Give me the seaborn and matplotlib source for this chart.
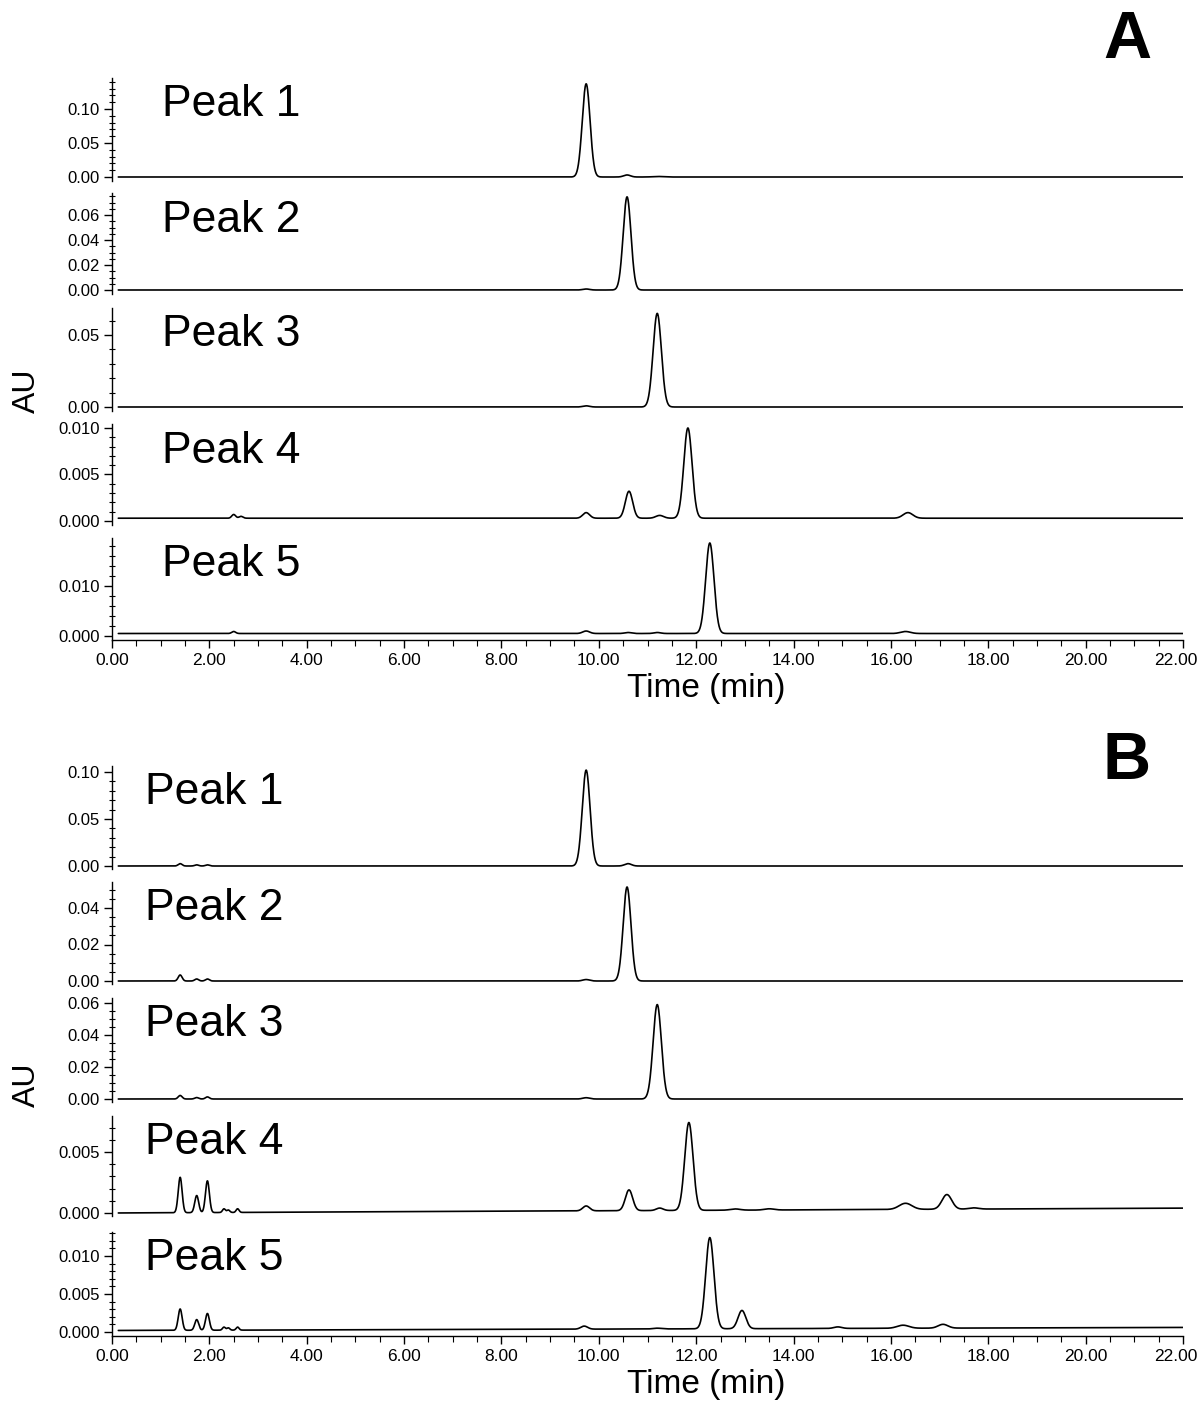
import numpy as np
import pandas as pd
import matplotlib
matplotlib.use("Agg")
import matplotlib.pyplot as plt
from matplotlib.ticker import MultipleLocator, FormatStrFormatter, FuncFormatter
import seaborn as sns

# trace names, same in both panels
trace_labels = ["Peak 1", "Peak 2", "Peak 3", "Peak 4", "Peak 5"]

# peak tables: retention time (min), height (AU), sd (min)
# panel A
A1_rt = [9.74, 10.58, 11.2]
A1_h = [0.137, 0.003, 0.0008]
A1_sd = [0.08, 0.07, 0.1]
A2_rt = [9.74, 10.58]
A2_h = [0.0008, 0.0745]
A2_sd = [0.07, 0.08]
A3_rt = [9.74, 11.2]
A3_h = [0.0008, 0.065]
A3_sd = [0.07, 0.085]
A4_rt = [2.5, 2.65, 9.74, 10.62, 11.25, 11.83, 16.35]
A4_h = [0.0004, 0.0002, 0.0006, 0.0029, 0.0003, 0.0097, 0.0006]
A4_sd = [0.04, 0.04, 0.07, 0.075, 0.08, 0.085, 0.1]
A5_rt = [2.5, 9.74, 10.6, 11.2, 12.28, 16.3]
A5_h = [0.0004, 0.0005, 0.0002, 0.0002, 0.0181, 0.0004]
A5_sd = [0.04, 0.07, 0.07, 0.07, 0.085, 0.1]
# panel B
B1_rt = [1.40, 1.74, 1.96, 9.74, 10.6]
B1_h = [0.0025, 0.0012, 0.0012, 0.102, 0.0025]
B1_sd = [0.04, 0.04, 0.04, 0.08, 0.07]
B2_rt = [1.40, 1.74, 1.96, 9.74, 10.58]
B2_h = [0.0033, 0.0011, 0.0011, 0.0008, 0.0515]
B2_sd = [0.04, 0.04, 0.04, 0.07, 0.08]
B3_rt = [1.40, 1.74, 1.96, 9.74, 11.2]
B3_h = [0.0022, 0.0009, 0.0013, 0.0008, 0.059]
B3_sd = [0.04, 0.04, 0.04, 0.07, 0.085]
B4_rt = [1.40, 1.74, 1.96, 2.30, 2.39, 2.58, 9.74, 10.62, 11.25, 11.85, 12.8, 13.5, 16.3, 17.15, 17.7]
B4_h = [0.0029, 0.0014, 0.0026, 0.0003, 0.0002, 0.0003, 0.0004, 0.0017, 0.0002, 0.0072,
        0.0001, 0.0001, 0.0005, 0.0012, 0.0001]
B4_sd = [0.04, 0.04, 0.04, 0.03, 0.03, 0.03, 0.07, 0.075, 0.07, 0.085, 0.1, 0.1, 0.13, 0.1, 0.1]
B5_rt = [1.40, 1.74, 1.96, 2.30, 2.39, 2.58, 9.70, 11.2, 12.28, 12.94, 14.91, 16.25, 17.07]
B5_h = [0.0028, 0.0014, 0.0022, 0.0004, 0.0003, 0.0004, 0.0004, 0.0001, 0.0120, 0.0024,
        0.0002, 0.0004, 0.0005]
B5_sd = [0.04, 0.04, 0.04, 0.03, 0.03, 0.03, 0.07, 0.08, 0.085, 0.08, 0.08, 0.12, 0.1]

# baseline drift (AU at start, AU at end of run)
A_base_start = [0, 0, 0, 0.0003, 0.0005]
A_base_end = [0, 0, 0, 0.0003, 0.0005]
B_base_start = [0, 0, 0, 0.0, 0.0002]
B_base_end = [0, 0, 0, 0.0004, 0.0006]

A_tables = [(A1_rt, A1_h, A1_sd), (A2_rt, A2_h, A2_sd), (A3_rt, A3_h, A3_sd),
            (A4_rt, A4_h, A4_sd), (A5_rt, A5_h, A5_sd)]
B_tables = [(B1_rt, B1_h, B1_sd), (B2_rt, B2_h, B2_sd), (B3_rt, B3_h, B3_sd),
            (B4_rt, B4_h, B4_sd), (B5_rt, B5_h, B5_sd)]

t = np.arange(0.13, 22.0, 0.005)


def trace(rt, h, sd, b0, b1):
    y = b0 + (b1 - b0) * t / 22.0
    for c, a, s in zip(rt, h, sd):
        y = y + a * np.exp(-0.5 * ((t - c) / s) ** 2)
    return y


rows = []
for panel, tables, bs, be in [("A", A_tables, A_base_start, A_base_end),
                              ("B", B_tables, B_base_start, B_base_end)]:
    for name, (rt, h, sd), b0, b1 in zip(trace_labels, tables, bs, be):
        rows.append(pd.DataFrame({"panel": panel, "trace": name, "time": t,
                                  "AU": trace(rt, h, sd, b0, b1)}))
df = pd.concat(rows, ignore_index=True)

sns.set_style("ticks")
plt.rcParams["font.family"] = ["Liberation Sans", "DejaVu Sans"]
plt.rcParams.update({"text.color": "black", "axes.labelcolor": "black",
                     "xtick.color": "black", "ytick.color": "black",
                     "axes.edgecolor": "black"})

W, H = 1200, 1403
fig = plt.figure(figsize=(12, 14.03), dpi=100)

# axes layout in pixels: (top, bottom, zero pixel, px per AU, major, minor, fmt)
layout = {
    "A": [(78, 181, 177, 680, 0.05, 0.01, "%.2f"),
          (193, 294, 290, 1250, 0.02, 0.005, "%.2f"),
          (308, 411, 407, 1440, 0.05, 0.01, "%.2f"),
          (424, 525, 521, 9300, 0.005, 0.001, "%.3f"),
          (538, 640, 636, 5000, 0.01, 0.002, "%.3f")],
    "B": [(766, 869, 866, 940, 0.05, 0.01, "%.2f"),
          (882, 984, 981, 1825, 0.02, 0.005, "%.2f"),
          (998, 1102, 1099, 1600, 0.02, 0.005, "%.2f"),
          (1116, 1216, 1213, 12200, 0.005, 0.001, "%.3f"),
          (1232, 1336, 1332, 7600, 0.005, 0.001, "%.3f")],
}
x0, x1 = 112, 1183
label_x = {"A": 162, "B": 145}
x_end = 22.0


def time_fmt(v, pos):
    # the last label is drawn separately, nudged left so it stays inside the figure
    return "" if v > x_end - 0.1 else f"{v:.2f}"


for panel in ["A", "B"]:
    for i, (top, bot, zero, scale, major, minor, fmt) in enumerate(layout[panel]):
        ax = fig.add_axes([x0 / W, 1 - bot / H, (x1 - x0) / W, (bot - top) / H])
        d = df[(df["panel"] == panel) & (df["trace"] == trace_labels[i])]
        sns.lineplot(data=d, x="time", y="AU", ax=ax, color="black", linewidth=1.2,
                     estimator=None, errorbar=None)
        ax.set_xlim(0, x_end)
        ax.set_ylim(-(bot - zero) / scale, (zero - top) / scale)
        ax.yaxis.set_major_locator(MultipleLocator(major))
        ax.yaxis.set_minor_locator(MultipleLocator(minor))
        ax.yaxis.set_major_formatter(FormatStrFormatter(fmt))
        ax.tick_params(axis="y", which="major", length=6, width=1, labelsize=12, pad=3)
        ax.tick_params(axis="y", which="minor", length=4, width=0.8, direction="inout")
        ax.set_xlabel("")
        ax.set_ylabel("")
        for s in ["top", "right"]:
            ax.spines[s].set_visible(False)
        ax.spines["left"].set_linewidth(1)
        if i < 4:
            ax.spines["bottom"].set_visible(False)
            ax.tick_params(axis="x", which="both", bottom=False, labelbottom=False)
        else:
            ax.xaxis.set_major_locator(MultipleLocator(2))
            ax.xaxis.set_minor_locator(MultipleLocator(0.5))
            ax.xaxis.set_major_formatter(FuncFormatter(time_fmt))
            ax.tick_params(axis="x", which="major", length=6, width=1, labelsize=12.5)
            ax.tick_params(axis="x", which="minor", length=4, width=0.8)
            ax.spines["bottom"].set_linewidth(1)
            ax.annotate(f"{x_end:.2f}", xy=(x_end, 0), xycoords=ax.get_xaxis_transform(),
                        xytext=(-5, -9.5), textcoords="offset points",
                        ha="center", va="top", fontsize=12.5)
        fig.text(label_x[panel] / W, 1 - (top + 27) / H, trace_labels[i],
                 fontsize=32, va="center", ha="left")

fig.text(706 / W, 1 - 688 / H, "Time (min)", fontsize=24, ha="center", va="center")
fig.text(706 / W, 1 - 1384 / H, "Time (min)", fontsize=24, ha="center", va="center")
fig.text(27 / W, 1 - 391 / H, "AU", fontsize=23, rotation=90, ha="center", va="center")
fig.text(27 / W, 1 - 1085 / H, "AU", fontsize=23, rotation=90, ha="center", va="center")
fig.text(1127 / W, 1 - 41 / H, "A", fontsize=48, fontweight="bold", ha="center", va="center")
fig.text(1127 / W, 1 - 762 / H, "B", fontsize=48, fontweight="bold", ha="center", va="center")

fig.savefig("out.png", dpi=100)
